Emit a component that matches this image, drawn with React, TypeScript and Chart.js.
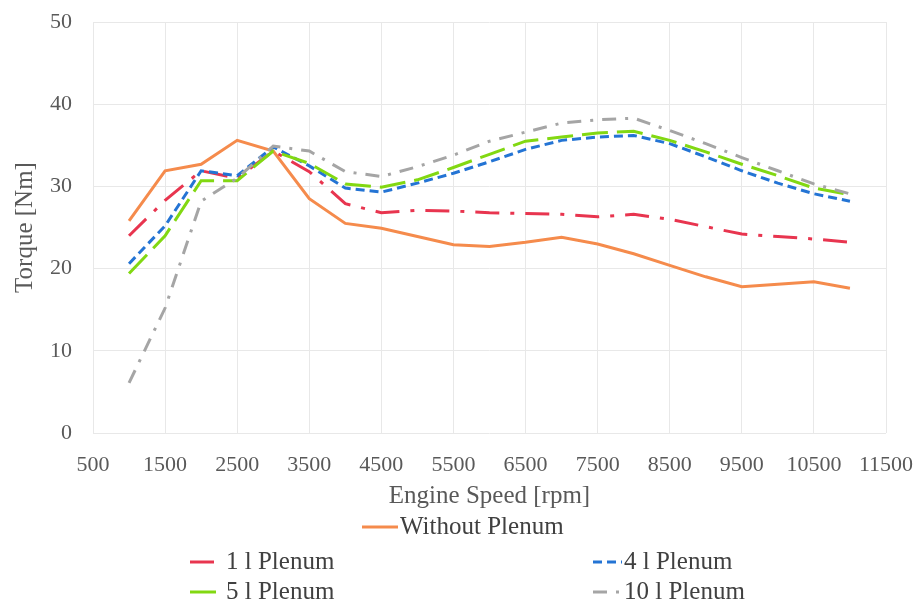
import React, { useEffect, useRef } from 'react';
import { Chart, registerables } from 'chart.js';

Chart.register(...registerables);

// ---- data ----
const rpm = [1000, 1500, 2000, 2500, 3000, 3500, 4000, 4500, 5000, 5500, 6000, 6500, 7000, 7500, 8000, 8500, 9000, 9500, 10000, 10500, 11000];
const withoutPlenum = [25.8, 31.9, 32.7, 35.6, 34.3, 28.5, 25.5, 24.9, 23.9, 22.9, 22.7, 23.2, 23.8, 23.0, 21.8, 20.4, 19.0, 17.8, 18.1, 18.4, 17.6];
const plenum1 = [24.0, 28.3, 31.9, 31.0, 34.3, 31.8, 27.9, 26.8, 27.1, 27.0, 26.8, 26.7, 26.6, 26.3, 26.6, 26.0, 25.1, 24.2, 23.9, 23.6, 23.2];
const plenum4 = [20.6, 25.2, 31.9, 31.3, 34.8, 32.5, 29.8, 29.3, 30.4, 31.6, 33.0, 34.5, 35.6, 36.0, 36.2, 35.2, 33.6, 31.9, 30.4, 29.1, 28.2];
const plenum5 = [19.4, 24.0, 30.7, 30.7, 34.3, 32.8, 30.3, 29.9, 30.8, 32.3, 33.9, 35.5, 36.0, 36.5, 36.7, 35.6, 34.2, 32.7, 31.3, 29.8, 29.0];
const plenum10 = [6.1, 15.2, 28.2, 31.0, 34.9, 34.3, 31.8, 31.2, 32.4, 33.8, 35.5, 36.6, 37.7, 38.1, 38.3, 36.8, 35.2, 33.5, 31.9, 30.3, 29.1];
const xTickValues = [500, 1500, 2500, 3500, 4500, 5500, 6500, 7500, 8500, 9500, 10500, 11500];
const seriesNames = ['Without Plenum', '1 l Plenum', '4 l Plenum', '5 l Plenum', '10 l Plenum'];
const xTitle = 'Engine Speed [rpm]';
const yTitle = 'Torque [Nm]';

// ---- styles ----
const FONT = '"Liberation Serif", "Times New Roman", serif';
const colors = ['#F58B4C', '#E8354F', '#2474D4', '#82D812', '#A5A5A5'];
const dashes: number[][] = [[], [24, 11, 4, 11], [9, 5], [26, 9], [14, 9, 3, 9]];
// legend placement: [lineStartX, lineEndX, textX, centerY]
const legendLayout = [
  [362, 398, 400, 527],
  [190, 220, 226, 562],
  [593, 622, 624, 562],
  [190, 220, 226, 592],
  [593, 622, 624, 592],
];

const legendPlugin = {
  id: 'customLegend',
  afterDraw(chart: any) {
    const ctx = chart.ctx as CanvasRenderingContext2D;
    ctx.save();
    chart.data.datasets.forEach((ds: any, i: number) => {
      const [x0, x1, tx, cy] = legendLayout[i];
      ctx.beginPath();
      ctx.strokeStyle = ds.borderColor;
      ctx.lineWidth = 3;
      ctx.setLineDash(ds.borderDash || []);
      ctx.moveTo(x0, cy);
      ctx.lineTo(x1, cy);
      ctx.stroke();
      ctx.setLineDash([]);
      ctx.font = `25px ${FONT}`;
      ctx.fillStyle = '#404040';
      ctx.textBaseline = 'middle';
      ctx.textAlign = 'left';
      ctx.fillText(ds.label, tx, cy);
    });
    ctx.restore();
  },
};

export default function App() {
  const ref = useRef<HTMLCanvasElement | null>(null);

  useEffect(() => {
    if (!ref.current) return;
    const series = [withoutPlenum, plenum1, plenum4, plenum5, plenum10];
    const chart = new Chart(ref.current, {
      type: 'line',
      data: {
        datasets: series.map((vals, i) => ({
          label: seriesNames[i],
          data: rpm.map((x, j) => ({ x, y: vals[j] })),
          borderColor: colors[i],
          backgroundColor: colors[i],
          borderWidth: 3,
          borderDash: dashes[i],
          pointRadius: 0,
          tension: 0,
          fill: false,
          order: series.length - i,
        })),
      },
      options: {
        animation: false,
        responsive: false,
        devicePixelRatio: 1,
        layout: { autoPadding: false, padding: { left: 0, top: 22, right: 33, bottom: 94 } },
        plugins: { legend: { display: false }, tooltip: { enabled: false } },
        scales: {
          x: {
            type: 'linear',
            min: 500,
            max: 11500,
            afterBuildTicks: (scale: any) => {
              scale.ticks = xTickValues.map((v) => ({ value: v }));
            },
            afterFit: (scale: any) => {
              scale.height = 79;
              scale.paddingLeft = 0;
              scale.paddingRight = 0;
            },
            ticks: {
              autoSkip: false,
              maxRotation: 0,
              padding: 19,
              color: '#595959',
              font: { family: FONT, size: 22 },
              callback: (v: any) => String(v),
            },
            grid: { color: '#E8E8E8', lineWidth: 1, drawTicks: false },
            border: { display: false },
            title: {
              display: true,
              text: xTitle,
              color: '#595959',
              font: { family: FONT, size: 25 },
              padding: { top: 0, bottom: 1 },
            },
          },
          y: {
            min: 0,
            max: 50,
            afterFit: (scale: any) => {
              scale.width = 93;
              scale.paddingTop = 0;
              scale.paddingBottom = 0;
            },
            ticks: {
              stepSize: 10,
              padding: 21,
              color: '#595959',
              font: { family: FONT, size: 22 },
            },
            grid: { color: '#E8E8E8', lineWidth: 1, drawTicks: false },
            border: { display: false },
            title: {
              display: true,
              text: yTitle,
              color: '#595959',
              font: { family: FONT, size: 25 },
              padding: { top: 10, bottom: 0 },
            },
          },
        },
      },
      plugins: [legendPlugin],
    } as any);
    return () => chart.destroy();
  }, []);

  return (
    <div style={{ position: 'absolute', left: 0, top: 0, width: 919, height: 606, background: '#fff' }}>
      <canvas ref={ref} width={919} height={606} style={{ display: 'block' }} />
    </div>
  );
}
